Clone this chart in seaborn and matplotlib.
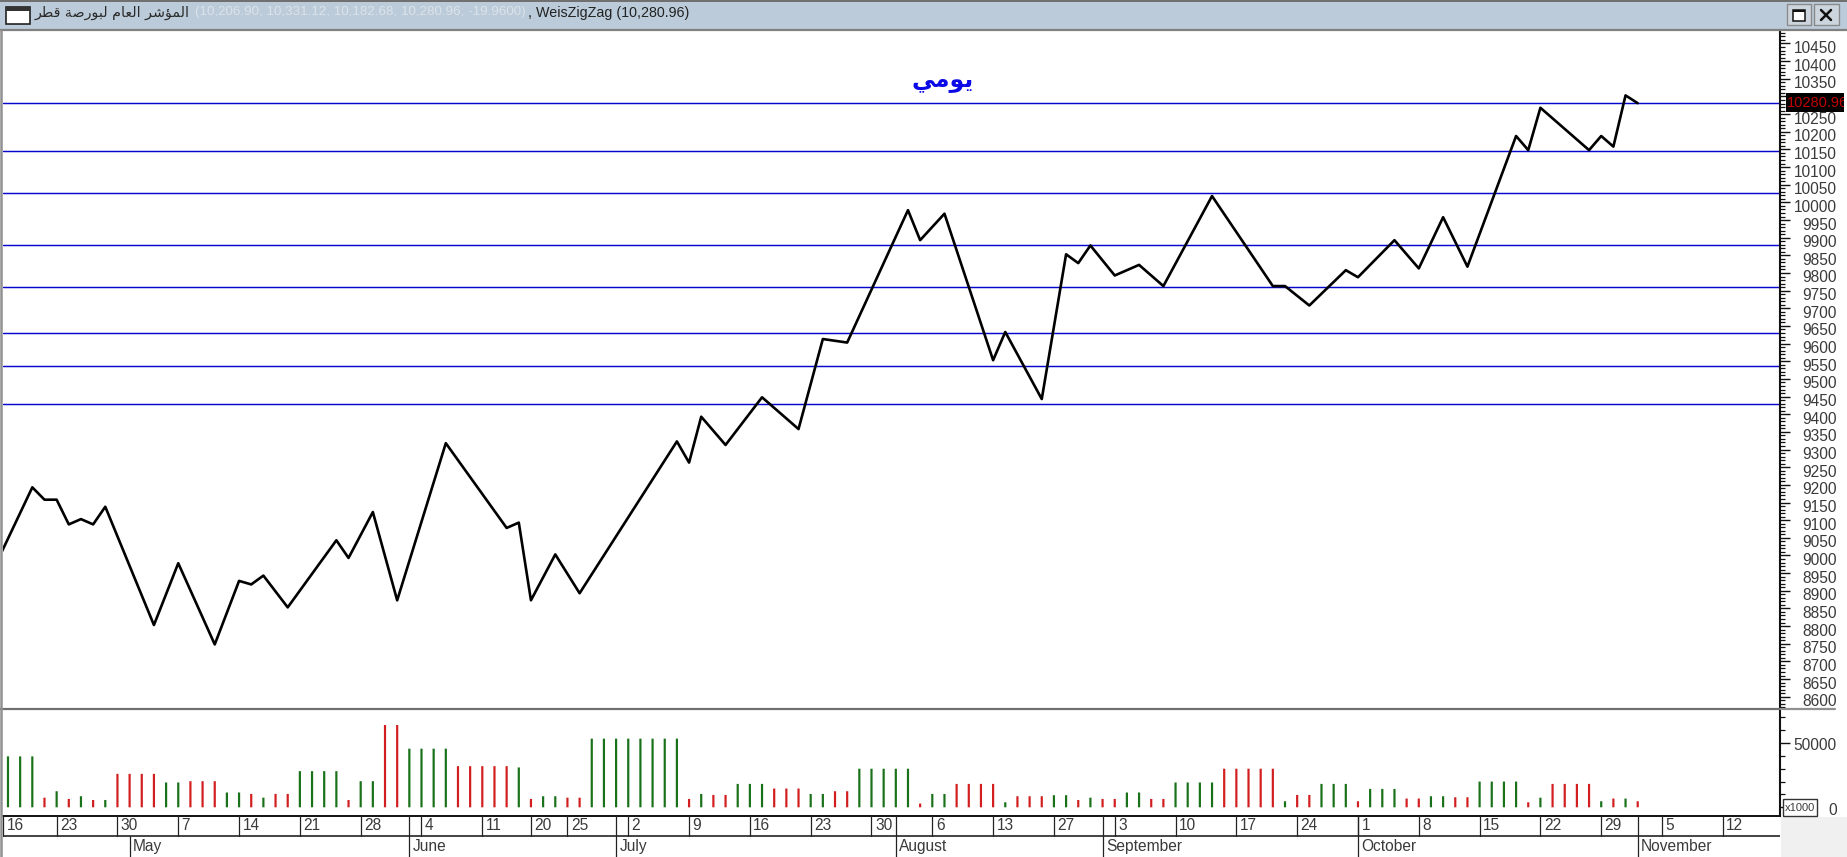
import matplotlib
matplotlib.use("Agg")
import matplotlib.pyplot as plt
from matplotlib.patches import Rectangle
from matplotlib.lines import Line2D
from matplotlib.ticker import MultipleLocator, FixedLocator, FuncFormatter
from matplotlib.transforms import ScaledTranslation
import seaborn as sns
import pandas as pd

W, H = 1847, 857
# ---------- data ----------
leg_idx = [-1,2,3,4,5,6,7,8,12,14,17,19,20,21,23,27,28,30,32,36,41,42,43,45,47,55,56,57,59,62,65,67,69,74,75,77,81,82,85,87,88,89,91,93,95,99,104,105,107,110,111,114,116,118,120,122,124,125,126,130,131,132,133,134]
leg_val = [8975,9193,9158,9158,9088,9103,9088,9138,8803,8978,8748,8928,8918,8943,8853,9043,8993,9123,8873,9318,9078,9093,8873,9003,8893,9323,9263,9393,9313,9448,9358,9613,9603,9978,9893,9968,9553,9633,9443,9853,9828,9878,9793,9823,9763,10018,9763,9763,9708,9808,9788,9893,9813,9958,9818,10003,10188,10148,10268,10148,10188,10158,10303,10281]
levels = [10280.96,10146,10027.5,9879,9759,9629,9535.6,9429]
vol_val = [39600,39600,39600,7500,12500,6500,8600,5700,5700,26000,26000,26000,26000,19300,19300,20300,20300,20300,11500,11500,10400,7500,10400,10400,28100,28100,28100,28100,5700,20300,20300,64000,64000,45600,45600,45600,45600,32000,32000,32000,32000,32000,31000,6500,8600,8600,7500,7500,53400,53400,53400,53400,53400,53400,53400,53400,6500,10400,9600,9600,18200,18200,18200,14600,14600,14600,10400,10400,12500,12500,30000,30000,30000,30000,30000,2900,10400,10400,18200,18200,18200,18200,3900,8600,8600,8600,9400,9400,5700,7500,6500,6500,11500,11500,6500,6500,19300,19300,19300,19300,30000,30000,30000,30000,30000,4700,9600,9600,18200,18200,18200,4700,14300,14300,14300,6800,6800,8600,8600,7800,7800,20000,20000,20000,20000,3900,7500,18200,18200,18200,18200,4700,6800,6800,4700]
vol_dir = "gggrgrgrg" + "rrrr" + "gg" + "rrr" + "gg" + "r" + "g" + "rr" + "gggg" + "r" + "gg" + "rr" + "gggg" + "rrrrr" + "g" + "r" + "gg" + "rr" + "gggggggg" + "r" + "g" + "rr" + "ggg" + "rrr" + "gg" + "rr" + "ggggg" + "r" + "gg" + "rrrr" + "g" + "rrr" + "gg" + "r" + "g" + "rr" + "gg" + "rr" + "gggg" + "rrrrr" + "g" + "rr" + "ggg" + "r" + "ggg" + "rr" + "gg" + "rr" + "gggg" + "r" + "g" + "rrrr" + "g" + "r" + "g" + "r"
week_labels = ["16","23","30","7","14","21","28","4","11","20","25","2","9","16","23","30","6","13","27","3","10","17","24","1","8","15","22","29","5","12"]
week_idx = [-0.4,4,9,14,19,24,29,34,39,43,46,51,56,61,66,71,76,81,86,91,96,101,106,111,116,121,126,131,136,141]
month_labels = ["May","June","July","August","September","October","November"]
month_idx = [10,33,50,73,90,111,134]
title_ar = "المؤشر العام لبورصة قطر"
title_ohlc = "(10,206.90, 10,331.12, 10,182.68, 10,280.96, -19.9600)"
title_zz = ", WeisZigZag (10,280.96)"
note_ar = "يومي"
last_label = "10280.96"

# Arabic shaping: matplotlib does not join letters or reorder right-to-left
FORMS = {"ا":"\uFE8D\uFE8E","ل":"\uFEDD\uFEDE\uFEDF\uFEE0","م":"\uFEE1\uFEE2\uFEE3\uFEE4","ؤ":"\uFE85\uFE86",
         "ش":"\uFEB5\uFEB6\uFEB7\uFEB8","ر":"\uFEAD\uFEAE","ع":"\uFEC9\uFECA\uFECB\uFECC","ب":"\uFE8F\uFE90\uFE91\uFE92",
         "و":"\uFEED\uFEEE","ص":"\uFEB9\uFEBA\uFEBB\uFEBC","ة":"\uFE93\uFE94","ق":"\uFED5\uFED6\uFED7\uFED8",
         "ط":"\uFEC1\uFEC2\uFEC3\uFEC4","ي":"\uFEF1\uFEF2\uFEF3\uFEF4"}
def shape(s):
    out = []
    for i, c in enumerate(s):
        if c not in FORMS:
            out.append(c); continue
        f = FORMS[c]
        prev = s[i-1] if i else " "
        nxt = s[i+1] if i+1 < len(s) else " "
        a = prev in FORMS and len(FORMS[prev]) == 4
        b = nxt in FORMS and len(f) == 4
        out.append(f[3] if a and b else f[1] if a else f[2] if b else f[0])
    return "".join(reversed(out))

# ---------- figure ----------
sns.set_style("white")
plt.rcParams["font.family"] = ["Liberation Sans", "DejaVu Sans"]
fig = plt.figure(figsize=(W/100, H/100), dpi=100, facecolor="white")

def axpx(l, t, r, b):
    return fig.add_axes([l/W, 1-b/H, (r-l)/W, (b-t)/H])
def fy(y): return 1-y/H
def fx(x): return x/W
def rect(l, t, r, b, **kw):
    kw.setdefault("transform", fig.transFigure)
    kw.setdefault("zorder", 5)
    fig.add_artist(Rectangle((fx(l), fy(b)), (r-l)/W, (b-t)/H, **kw))
def hl(x0, x1, y, c="black", lw=1.0, z=6):
    fig.add_artist(Line2D([fx(x0), fx(x1)], [fy(y), fy(y)], color=c, lw=lw, zorder=z))
def vl(x, y0, y1, c="black", lw=1.0, z=6):
    fig.add_artist(Line2D([fx(x), fx(x)], [fy(y0), fy(y1)], color=c, lw=lw, zorder=z))

XLIM = (-0.41, 145.7)
TXT = "#3a3a3a"

# main panel
ax = axpx(3, 31, 1780, 708)
df = pd.DataFrame({"i": leg_idx, "v": leg_val})
for lv in levels:
    ax.axhline(lv, color="#0808cc", lw=1.05, zorder=1)
sns.lineplot(data=df, x="i", y="v", ax=ax, color="black", lw=1.9, sort=False, estimator=None, zorder=3)
ax.set_xlim(*XLIM)
ax.set_ylim(8568, 10485.4)
ax.set_xlabel(""); ax.set_ylabel("")
ax.set_xticks([])
ax.yaxis.tick_right()
ax.yaxis.set_major_locator(MultipleLocator(50))
ax.yaxis.set_minor_locator(MultipleLocator(10))
# the 10300 label is covered by the last-value flag in the reference
ax.yaxis.set_major_formatter(FuncFormatter(lambda v, p: "" if round(v) == 10300 else f"{v:.0f}"))
ax.tick_params(axis="y", which="major", right=True, length=7.2, width=1.0, color="#111111", pad=33.5, labelsize=11.2, labelcolor=TXT)
ax.tick_params(axis="y", which="minor", right=True, length=3.8, width=0.9, color="#111111")
off = ScaledTranslation(0, -2.5/72, fig.dpi_scale_trans)
for t in ax.get_yticklabels():
    t.set_ha("right")
    t.set_transform(t.get_transform() + off)
for s in ["top", "left", "bottom"]:
    ax.spines[s].set_visible(False)
ax.spines["right"].set_color("#111111"); ax.spines["right"].set_linewidth(1.5)
fig.text(fx(943), fy(80), shape(note_ar), color="#0a0ae6", fontsize=17, fontweight="bold",
         family="DejaVu Sans", ha="center", va="center", zorder=7)

# volume panel
vax = axpx(3, 710, 1780, 816)
vdf = pd.DataFrame({"i": range(len(vol_val)), "v": vol_val, "d": list(vol_dir)})
sns.barplot(data=vdf, x="i", y="v", hue="d", palette={"g": "#0a800a", "r": "#f00000"}, native_scale=True,
            dodge=False, width=0.18, legend=False, ax=vax, linewidth=0, errorbar=None)
for p in vax.patches:
    p.set_snap(False)
vax.set_xlim(*XLIM)
vax.set_ylim(-6765, 75660)
vax.set_xlabel(""); vax.set_ylabel("")
vax.set_xticks([])
vax.yaxis.tick_right()
vax.yaxis.set_major_locator(FixedLocator([0, 50000]))
vax.yaxis.set_minor_locator(FixedLocator([10000, 20000, 30000, 40000, 60000, 70000]))
vax.tick_params(axis="y", which="major", right=True, length=7.2, width=1.0, color="#111111", pad=33.5, labelsize=11.2, labelcolor=TXT)
vax.tick_params(axis="y", which="minor", right=True, length=3.8, width=0.9, color="#111111")
for t in vax.get_yticklabels():
    t.set_ha("right")
    t.set_transform(t.get_transform() + ScaledTranslation(0, -1/72, fig.dpi_scale_trans))
for s in ["top", "left", "bottom"]:
    vax.spines[s].set_visible(False)
vax.spines["right"].set_color("#111111"); vax.spines["right"].set_linewidth(1.5)

# date rows
dax = axpx(3, 816, 1780, 857)
dax.set_xlim(*XLIM); dax.set_ylim(0, 41)
dax.set_xticks([]); dax.set_yticks([])
for s in dax.spines.values():
    s.set_visible(False)
dax.axhline(41, color="#111111", lw=1.4, clip_on=False)
dax.axhline(21, color="#111111", lw=1.1)
for i, lab in zip(week_idx, week_labels):
    dax.plot([i, i], (21, 41), color="#222222", lw=0.9)
    dax.annotate(lab, (i, 31), xytext=(2.5, 0), textcoords="offset points", fontsize=11.2, color=TXT, va="center", ha="left")
for i, lab in zip(month_idx, month_labels):
    dax.plot([i, i], (0, 21 if lab == "May" else 41), color="#222222", lw=0.9)
    dax.annotate(lab, (i, 10.5), xytext=(2.5, 0), textcoords="offset points", fontsize=11.2, color=TXT, va="center", ha="left")

# window chrome
rect(1781, 817, W, H, facecolor="#f0f0f0", edgecolor="none", zorder=1)
rect(0, 0, W, 30, facecolor="#bccbd9", edgecolor="none")
hl(0, W, 0.7, c="#6e6e6e", lw=1.4)
hl(0, W, 30.3, c="#808080", lw=1.6)
hl(0, 1781, 708.8, c="#707070", lw=1.6)
hl(1781, 1835, 708.8, c="#909090", lw=1.6)
vl(1.2, 30, H, c="#909090", lw=1.8)
# title icon
rect(6, 7, 30, 24, facecolor="white", edgecolor="#222222", lw=1.2, zorder=7)
rect(6, 7, 30, 11, facecolor="#333333", edgecolor="none", zorder=7)
fig.text(fx(35), fy(12.5), shape(title_ar), family="DejaVu Sans", fontsize=10.3, color="#2a2a2a", ha="left", va="center", zorder=7)
fig.text(fx(195), fy(12.5), title_ohlc, fontsize=9.6, color="#dbe3ea", ha="left", va="center", zorder=7)
fig.text(fx(528), fy(12.5), title_zz, fontsize=10.3, color="#222222", ha="left", va="center", zorder=7)
# window buttons
for l, r in [(1787, 1811), (1814, 1839)]:
    rect(l, 4, r, 25, facecolor="#ccd5dd", edgecolor="#8a8a8a", lw=1.0, zorder=7)
rect(1793, 10, 1805, 21, facecolor="white", edgecolor="#111111", lw=1.1, zorder=8)
rect(1793, 10, 1805, 12, facecolor="#111111", edgecolor="none", zorder=8)
for a, b in [((1821, 10), (1831, 20)), ((1831, 10), (1821, 20))]:
    fig.add_artist(Line2D([fx(a[0]), fx(b[0])], [fy(a[1]), fy(b[1])], color="#111111", lw=1.8, zorder=8))
# last value flag
rect(1786, 93, 1844, 112, facecolor="black", edgecolor="none", zorder=7)
flag = fig.text(fx(1787), fy(103), last_label, fontsize=10.5, color="#c00000", ha="left", va="center", zorder=8)
flag.set_clip_path(Rectangle((1786, H-112), 58, 19, transform=None))
# x1000 box
rect(1783, 799, 1817, 816, facecolor="white", edgecolor="#333333", lw=1.0, zorder=7)
fig.text(fx(1800), fy(808), "x1000", fontsize=8, color=TXT, ha="center", va="center", zorder=8)

fig.savefig("out.png", dpi=100, facecolor="white")
